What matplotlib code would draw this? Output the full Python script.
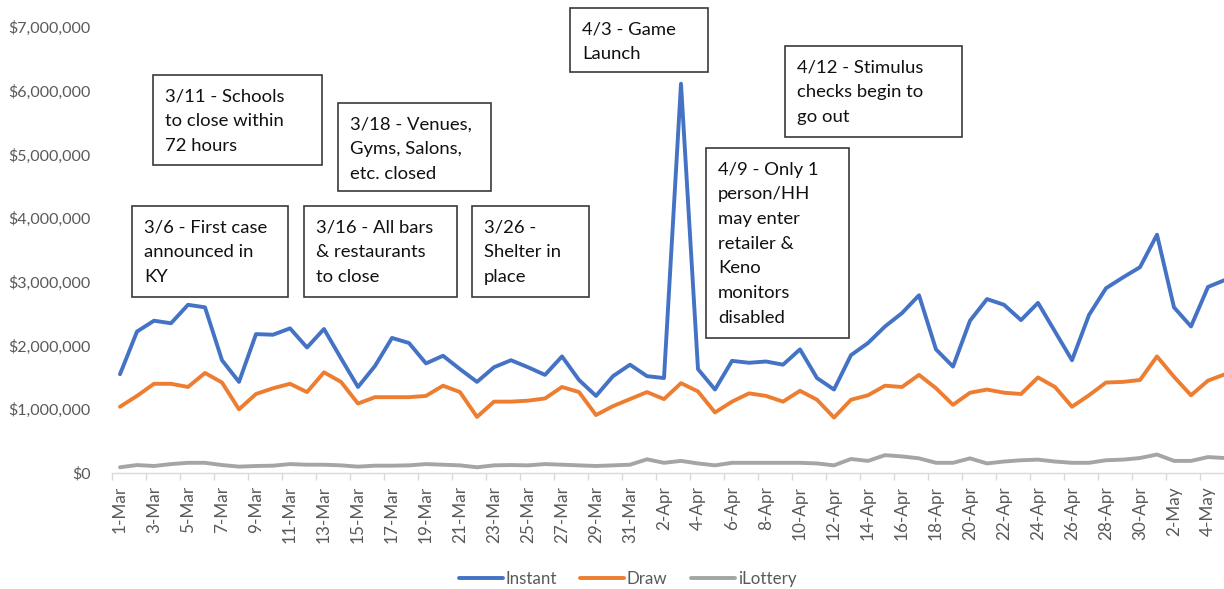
import matplotlib
matplotlib.use("Agg")
import matplotlib.pyplot as plt
from matplotlib.patches import Rectangle
from matplotlib.ticker import FuncFormatter, FixedLocator
import pandas as pd

# Daily sales, 1 March - 5 May (millions of dollars)
dates = pd.date_range("2020-03-01", "2020-05-05", freq="D")
date_labels = [f"{d.day}-{d.strftime('%b')}" for d in dates]

instant = [1.55, 2.22, 2.39, 2.35, 2.64, 2.60, 1.77, 1.43, 2.18, 2.17,
           2.27, 1.97, 2.26, 1.80, 1.35, 1.68, 2.12, 2.04, 1.72, 1.84,
           1.63, 1.43, 1.66, 1.77, 1.66, 1.54, 1.83, 1.46, 1.21, 1.52,
           1.70,
           1.52, 1.49, 6.11, 1.63, 1.31, 1.76, 1.73, 1.75, 1.70, 1.94,
           1.49, 1.31, 1.85, 2.04, 2.30, 2.51, 2.79, 1.94, 1.67, 2.39,
           2.73, 2.64, 2.40, 2.67, 2.22, 1.77, 2.48, 2.90, 3.07, 3.23,
           3.74, 2.60, 2.30, 2.92, 3.03]

draw = [1.04, 1.21, 1.40, 1.40, 1.35, 1.57, 1.42, 1.00, 1.24, 1.33,
        1.40, 1.27, 1.58, 1.43, 1.09, 1.19, 1.19, 1.19, 1.21, 1.37,
        1.27, 0.88, 1.12, 1.12, 1.135, 1.17, 1.35, 1.27, 0.91, 1.05,
        1.16,
        1.27, 1.16, 1.41, 1.28, 0.95, 1.12, 1.25, 1.21, 1.12, 1.29,
        1.15, 0.87, 1.15, 1.22, 1.37, 1.35, 1.54, 1.33, 1.07, 1.26,
        1.31, 1.26, 1.24, 1.50, 1.35, 1.04, 1.22, 1.42, 1.43, 1.46,
        1.83, 1.51, 1.22, 1.45, 1.55]

ilottery = [0.09, 0.125, 0.11, 0.14, 0.16, 0.16, 0.125, 0.10, 0.11, 0.115,
            0.14, 0.13, 0.13, 0.12, 0.10, 0.115, 0.115, 0.12, 0.14, 0.13,
            0.12, 0.09, 0.12, 0.125, 0.12, 0.14, 0.13, 0.12, 0.11, 0.12,
            0.13,
            0.215, 0.16, 0.19, 0.15, 0.12, 0.16, 0.16, 0.16, 0.16, 0.16,
            0.15, 0.12, 0.22, 0.19, 0.28, 0.26, 0.23, 0.16, 0.16, 0.23,
            0.15, 0.18, 0.20, 0.21, 0.18, 0.16, 0.16, 0.20, 0.21, 0.235,
            0.29, 0.19, 0.19, 0.25, 0.235]

series_names = ["Instant", "Draw", "iLottery"]
series_colors = ["#4472C4", "#ED7D31", "#A5A5A5"]

y_ticks = [0, 1e6, 2e6, 3e6, 4e6, 5e6, 6e6, 7e6]

# Event call-outs: text lines and box extents (pixels, left/top/right/bottom)
events = [
    (["3/11 - Schools", "to close within", "72 hours"], (153, 75, 322, 165)),
    (["3/6 - First case", "announced in", "KY"], (132, 206, 288, 297)),
    (["3/16 - All bars", "& restaurants", "to close"], (304, 206, 457, 297)),
    (["3/18 - Venues,", "Gyms, Salons,", "etc. closed"], (338, 103, 491, 191)),
    (["3/26 -", "Shelter in", "place"], (472, 206, 589, 297)),
    (["4/3 - Game", "Launch"], (570, 8, 708, 72)),
    (["4/12 - Stimulus", "checks begin to", "go out"], (785, 46, 962, 137)),
    (["4/9 - Only 1", "person/HH", "may enter", "retailer &", "Keno",
      "monitors", "disabled"], (706, 148, 849, 338)),
]

W, H = 1224, 589
plt.rcParams["font.family"] = ["Lato", "DejaVu Sans"]
fig = plt.figure(figsize=(W / 100, H / 100), dpi=100)
fig.patch.set_facecolor("white")

ax_left, ax_right, ax_top, ax_bottom = 111.5, 1224, 27, 473
ax = fig.add_axes([ax_left / W, 1 - ax_bottom / H,
                   (ax_right - ax_left) / W, (ax_bottom - ax_top) / H])

x = list(range(len(dates)))
for vals, name, col in zip([instant, draw, ilottery], series_names, series_colors):
    ax.plot(x, [v * 1e6 for v in vals], color=col, lw=2.8, label=name,
            solid_joinstyle="round", solid_capstyle="round")

px_per_cat = 17.0
ax.set_xlim(-0.5, -0.5 + (ax_right - ax_left) / px_per_cat)
ax.set_ylim(0, 7e6)

ax.set_yticks(y_ticks)
ax.yaxis.set_major_formatter(FuncFormatter(lambda v, p: f"${v:,.0f}"))
ax.tick_params(axis="y", length=0, pad=14.8, labelsize=11.5, labelcolor="#595959")

ax.set_xticks(x[::2])
ax.set_xticklabels(date_labels[::2], rotation=90)
ax.xaxis.set_minor_locator(FixedLocator([i - 0.5 for i in x[::2]]))
ax.tick_params(axis="x", which="major", length=0, pad=9.5, labelsize=12.3,
               labelcolor="#595959")
ax.tick_params(axis="x", which="minor", length=5, width=1, color="#D9D9D9")

for s in ["top", "right", "left"]:
    ax.spines[s].set_visible(False)
ax.spines["bottom"].set_color("#D9D9D9")
ax.spines["bottom"].set_linewidth(1.0)

leg = fig.legend(loc="center", bbox_to_anchor=(627.5 / W, 1 - 579 / H), ncol=3,
                 frameon=False, fontsize=12.2, handlelength=2.6,
                 columnspacing=1.4, handletextpad=0.15)
for t in leg.get_texts():
    t.set_color("#595959")


def fx(px):
    return px / W


def fy(py):
    return 1 - py / H


for lines, (l, t, r, b) in events:
    fig.patches.append(Rectangle((fx(l), fy(b)), fx(r) - fx(l), fy(t) - fy(b),
                                 transform=fig.transFigure, facecolor="white",
                                 edgecolor="#3A3A3A", lw=1.2, zorder=5))
    for k, line in enumerate(lines):
        fig.text(fx(l + 12), fy(t + 26.5 + 24.7 * k), line, ha="left",
                 va="baseline", fontsize=13.3, color="#111111", zorder=6)

fig.savefig("out.png", dpi=100, facecolor="white")
